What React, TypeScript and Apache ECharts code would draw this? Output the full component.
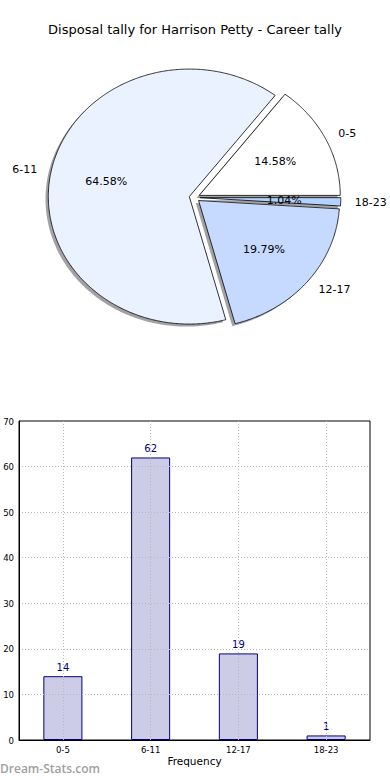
import React, { useEffect, useRef } from 'react';
import * as echarts from 'echarts';

const TITLE = 'Disposal tally for Harrison Petty - Career tally';
const categories = ['0-5', '6-11', '12-17', '18-23'];
const frequencies = [14, 62, 19, 1];
const sliceColors = ['#ffffff', '#eaf1ff', '#c6daff', '#b4d2ff'];
const yMin = 0;
const yMax = 70;
const yStep = 10;
const X_AXIS_NAME = 'Frequency';
const WATERMARK = 'Dream-Stats.com';

const FONT = 'DejaVu Sans';
const TICK_FONT = "'Liberation Sans Narrow', 'DejaVu Sans Condensed', 'DejaVu Sans', sans-serif";
const PIE = { cx: 194.5, cy: 197.5, rx: 141, ry: 127.5, explode: 0.0375, shadowDx: -2.8, shadowDy: 2.5 };

export default function App() {
  const ref = useRef<HTMLDivElement>(null);
  useEffect(() => {
    const chart = echarts.init(ref.current!, null, { renderer: 'svg' });
    const total = frequencies.reduce((a, b) => a + b, 0);
    const starts: number[] = [];
    let acc = 0;
    frequencies.forEach((v) => {
      starts.push((acc / total) * 360);
      acc += v;
    });

    const renderSlice = (params: any, api: any) => {
      const i = params.dataIndex;
      const v = api.value(1) as number;
      const a0 = starts[i];
      const sweep = (v / total) * 360;
      const mid = ((a0 + sweep / 2) * Math.PI) / 180;
      const ox = PIE.cx + PIE.explode * PIE.rx * Math.cos(mid);
      const oy = PIE.cy - PIE.explode * PIE.ry * Math.sin(mid);
      const pts = (dx: number, dy: number) => {
        const p: number[][] = [[ox + dx, oy + dy]];
        const n = Math.max(2, Math.ceil(sweep / 0.5));
        for (let k = 0; k <= n; k++) {
          const t = ((a0 + (sweep * k) / n) * Math.PI) / 180;
          p.push([ox + dx + PIE.rx * Math.cos(t), oy + dy - PIE.ry * Math.sin(t)]);
        }
        return p;
      };
      const cosm = Math.cos(mid);
      const sinm = Math.sin(mid);
      const lx = ox + 1.1 * PIE.rx * cosm;
      const ly = oy - 1.1 * PIE.ry * sinm;
      const px = ox + 0.6 * PIE.rx * cosm;
      const py = oy - 0.6 * PIE.ry * sinm;
      const pct = ((v / total) * 100).toFixed(2) + '%';
      return {
        type: 'group',
        children: [
          {
            type: 'polygon',
            shape: { points: pts(PIE.shadowDx, PIE.shadowDy) },
            style: { fill: 'rgba(70,70,75,0.5)', stroke: 'none' },
          },
          {
            type: 'polygon',
            shape: { points: pts(0, 0) },
            style: { fill: sliceColors[i], stroke: '#000', lineWidth: 0.8 },
          },
          {
            type: 'text',
            x: lx,
            y: ly,
            z2: 100,
            style: {
              text: categories[i],
              fill: '#000',
              fontSize: 11,
              fontFamily: FONT,
              align: cosm > 0 ? 'left' : 'right',
              verticalAlign: 'middle',
            },
          },
          {
            type: 'text',
            x: px,
            y: py,
            z2: 100,
            style: {
              text: pct,
              fill: '#000',
              fontSize: 11,
              fontFamily: FONT,
              align: 'center',
              verticalAlign: 'middle',
            },
          },
        ],
      };
    };

    const dotted = { color: '#b8b8b8', width: 1, type: [1, 2] as number[] };

    chart.setOption({
      animation: false,
      backgroundColor: '#fff',
      textStyle: { fontFamily: FONT },
      title: {
        text: TITLE,
        left: 'center',
        top: 23,
        padding: 0,
        textStyle: { fontSize: 13, fontWeight: 'normal', color: '#000', fontFamily: FONT },
      },
      graphic: [
        {
          type: 'text',
          left: 0,
          top: 762,
          style: {
            text: WATERMARK,
            fill: '#a0a0a0',
            fontSize: 12,
            fontWeight: 600,
            fontFamily: "'Open Sans', 'DejaVu Sans', sans-serif",
          },
        },
      ],
      grid: {
        left: 19,
        right: 20,
        top: 421,
        bottom: 40,
        show: true,
        borderColor: '#000',
        borderWidth: 1,
        backgroundColor: 'transparent',
      },
      xAxis: {
        type: 'category',
        data: categories,
        z: 5,
        axisLine: { show: true, lineStyle: { color: '#000', width: 1 } },
        axisTick: { show: false },
        axisLabel: { fontSize: 9.5, color: '#000', margin: 4, fontFamily: TICK_FONT },
        splitLine: { show: true, alignWithLabel: true, lineStyle: dotted },
        name: X_AXIS_NAME,
        nameLocation: 'middle',
        nameGap: 15,
        nameTextStyle: { fontSize: 10.5, color: '#000', fontFamily: FONT },
      },
      yAxis: {
        type: 'value',
        min: yMin,
        max: yMax,
        interval: yStep,
        z: 5,
        axisLine: { show: true, lineStyle: { color: '#000', width: 1 } },
        axisTick: { show: false },
        axisLabel: { fontSize: 9.5, color: '#000', margin: 5, fontFamily: TICK_FONT },
        splitLine: { show: true, showMinLine: false, showMaxLine: false, lineStyle: dotted },
      },
      series: [
        {
          type: 'custom',
          coordinateSystem: 'none',
          silent: true,
          renderItem: renderSlice,
          data: categories.map((c, i) => [i, frequencies[i]]),
        },
        {
          type: 'bar',
          data: frequencies,
          barWidth: '44.5%',
          itemStyle: { color: '#ccccE6', borderColor: '#000080', borderWidth: 1 },
          label: {
            show: true,
            position: 'top',
            distance: 3.5,
            color: '#000080',
            fontSize: 10,
            fontFamily: FONT,
          },
        },
      ],
    });
    return () => chart.dispose();
  }, []);
  return <div ref={ref} style={{ position: 'absolute', left: 0, top: 0, width: 390, height: 780 }} />;
}
